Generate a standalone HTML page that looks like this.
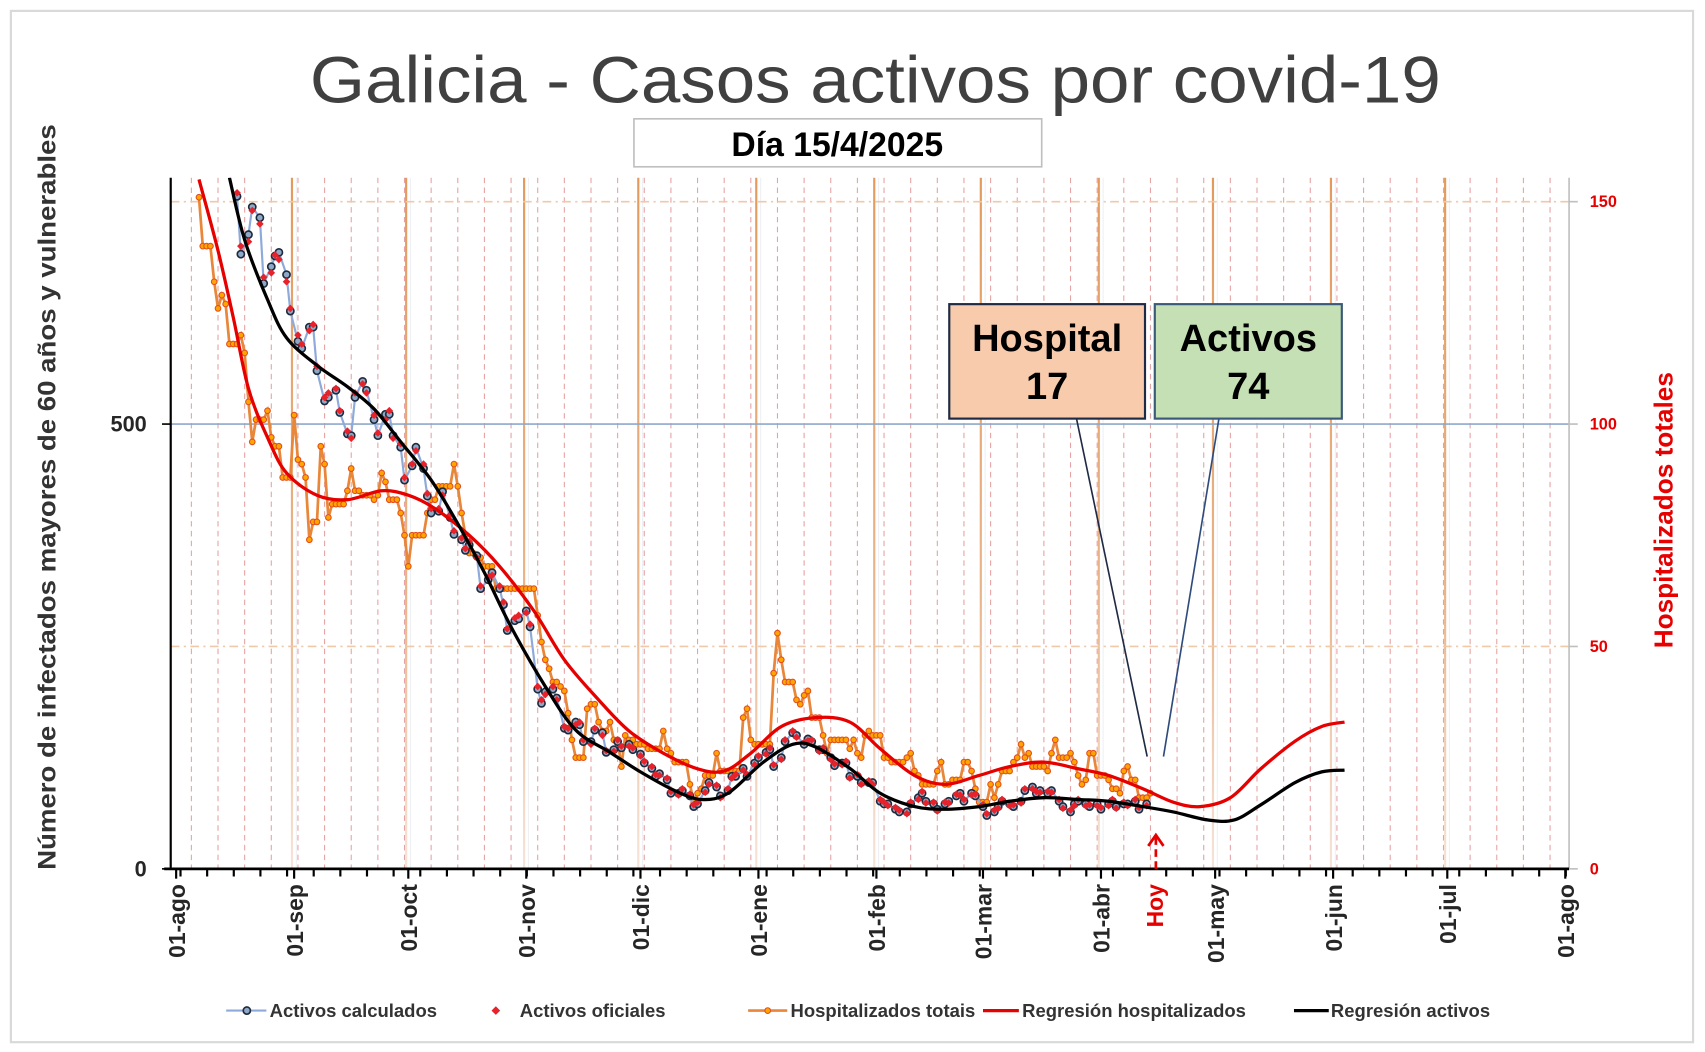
<!DOCTYPE html>
<html><head><meta charset="utf-8"><style>
html,body{margin:0;padding:0;background:#fff;width:1705px;height:1052px;overflow:hidden}
svg{display:block}
text{font-family:"Liberation Sans",sans-serif}
</style></head><body>
<svg id="chart" width="1705" height="1052" viewBox="0 0 1568 965" preserveAspectRatio="none" xmlns="http://www.w3.org/2000/svg">
<rect x="10" y="10" width="1547" height="946" fill="#fff" stroke="#d9d9d9" stroke-width="2"/>
<text x="805" y="94" text-anchor="middle" font-size="60" fill="#404040" textLength="1040" lengthAdjust="spacingAndGlyphs">Galicia - Casos activos por covid-19</text>
<rect x="583" y="109" width="375" height="44" fill="#fff" stroke="#bfbfbf" stroke-width="1.5"/>
<text x="770" y="143" text-anchor="middle" font-size="31" font-weight="bold" fill="#000">Día 15/4/2025</text>
<g id="grid"></g>
<g id="marks"></g>
<g id="axes"></g>
<g id="annot"></g>
</svg>
<script>
// ---------- DATA ----------
var monthLabels = ["01-ago","01-sep","01-oct","01-nov","01-dic","01-ene","01-feb","01-mar","01-abr","01-may","01-jun","01-jul","01-ago"];
var monthDays = [0,31,61,92,122,153,184,212,243,273,304,334,365];
var leftTicks = [0,500];
var rightTicks = [0,50,100,150];
var todayDay = 257;
var activeDays = [16,17,19,20,22,23,25,26,27,29,30,32,33,35,36,37,39,40,42,43,45,46,47,49,50,52,53,55,56,57,59,60,62,63,65,66,67,69,70,72,73,75,76,77,79,80,82,83,85,86,87,89,90,92,93,95,96,97,99,100,102,103,105,106,107,109,110,112,113,115,116,117,119,120,122,123,125,126,127,129,130,132,133,135,136,137,139,140,142,143,145,146,147,149,150,152,153,155,156,157,159,160,162,163,165,166,167,169,170,172,173,175,176,177,179,180,182,183,185,186,187,189,190,192,193,195,196,197,199,200,202,203,205,206,207,209,210,212,213,215,216,217,219,220,222,223,225,226,227,229,230,232,233,235,236,237,239,240,242,243,245,246,247,249,250,252,253,255];
var activeCalc = [756,691,713,744,732,658,677,689,693,668,627,593,585,609,609,560,526,530,538,513,489,487,530,548,538,505,487,511,511,487,474,437,453,474,450,419,400,402,424,395,376,370,358,364,352,315,325,333,315,297,268,279,281,290,272,202,186,199,202,192,
158,156,165,162,143,143,156,153,131,134,143,136,140,134,129,119,113,104,107,100,85,85,88,82,70,73,88,97,92,82,88,104,104,113,104,119,125,131,134,115,125,143,153,150,140,146,143,134,134,125,116,119,119,104,104,97,97,97,76,73,73,67,64,64,73,80,85,76,73,67,73,76,82,85,76,85,82,70,60,64,70,76,73,70,76,88,92,85,88,85,88,76,70,64,73,76,73,70,73,67,73,76,70,73,73,76,67,73];
var activeOfic = [760,700,705,740,725,665,670,690,685,660,630,600,590,605,612,565,530,535,540,515,492,484,535,545,535,510,490,505,515,484,478,440,455,470,455,422,405,405,420,398,380,372,360,368,350,318,328,330,318,300,270,282,285,288,275,205,190,196,205,190,
160,158,162,165,145,140,158,150,133,132,145,138,138,136,127,121,115,106,105,102,87,83,90,84,72,75,86,95,94,80,90,102,106,111,106,117,127,129,136,117,123,145,155,148,142,144,145,132,136,123,118,117,121,102,106,95,99,95,78,75,71,69,66,62,75,78,87,74,75,65,75,74,84,83,78,83,84,72,62,66,68,78,71,72,74,90,90,87,86,87,86,78,68,66,71,78,71,72,71,69,71,78,68,75,71,78,69,71];
var hospStart = 6;
var hospVals = [151,140,140,140,132,126,129,127,118,118,118,120,116,105,96,101,101,101,103,97,95,95,88,88,88,102,92,91,88,74,78,78,95,91,79,82,82,82,82,85,90,85,85,84,84,84,83,84,89,87,83,83,83,80,75,68,75,75,75,75,80,83,83,86,86,86,86,91,86,80,75,71,71,70,70,68,68,68,63,63,63,63,63,63,63,63,63,63,63,57,
51,47,45,42,42,41,40,35,29,25,25,25,36,37,37,33,31,31,33,29,29,23,30,29,29,28,28,28,27,27,27,27,31,27,26,24,24,24,24,19,15,17,18,21,21,21,26,22,22,22,22,22,22,34,36,29,28,28,28,28,28,44,53,47,42,42,42,38,37,39,40,34,34,34,30,26,29,29,29,29,29,27,
29,26,25,30,31,30,30,30,25,25,24,24,24,24,25,26,22,21,19,19,19,19,22,24,19,19,20,20,20,24,24,22,18,15,15,15,19,16,19,22,22,22,24,25,28,25,26,23,23,23,23,22,26,29,25,25,25,26,24,21,19,20,26,26,21,21,21,20,18,18,17,22,23,20,20,16,16,16,17];
var regHospDays = [6,11,15,19,24,29,37,45,54,61,68,77,85,94,102,111,119,128,137,144,151,159,168,177,185,194,202,211,219,228,237,245,254,262,269,277,285,294,301,307];
var regHospVals = [155,139,124,108,97,89,84,83,85,84,81,75,68,58,47,38,31,26,22.5,22,26,32,34,33,27,21,19,21,23,24,22.5,21,18,15,14,16,22.5,28.7,32,33];
var regActDays = [14,18,24,29,37,45,52,59,67,74,81,88,97,105,114,122,131,138,145,154,162,168,177,185,194,202,211,219,228,237,245,254,262,271,278,285,294,301,307];
var regActVals = [777,707,640,597,566,542,517,480,437,388,333,272,205,156,131,109,88,78,85,119,140,137,113,85,70,67,70,76,80,78,76,70,64,55,55,72,97,109,111];

// ---------- SCALES ----------
var X0=162, PXD=3.5, Y0=797, PXL=0.816, PXR=4.08, TOP=163, LEFT=157, RIGHT=1443;
function xs(d){return X0+d*PXD;}
function yl(v){return Y0-v*PXL;}
function yr(v){return Y0-v*PXR;}
var NS="http://www.w3.org/2000/svg";
function mk(tag,attrs,parent){var e=document.createElementNS(NS,tag);for(var k in attrs)e.setAttribute(k,attrs[k]);parent.appendChild(e);return e;}
var grid=document.getElementById('grid'),marks=document.getElementById('marks'),axes=document.getElementById('axes'),annot=document.getElementById('annot');
var defs=mk('defs',{},document.getElementById('chart'));
defs.innerHTML='<clipPath id="plotclip"><rect x="157" y="163" width="1286" height="640"/></clipPath><linearGradient id="fade" gradientUnits="userSpaceOnUse" x1="0" y1="163" x2="0" y2="797"><stop offset="0" stop-color="#e39a5c"/><stop offset="0.6" stop-color="#eab48a"/><stop offset="1" stop-color="#f6e4d8"/></linearGradient>';
marks.setAttribute('clip-path','url(#plotclip)');

// grid: weekly dashed
for(var d=4; d<=365; d+=7){
  var gl=mk('line',{x1:xs(d),x2:xs(d),y1:TOP,y2:Y0,stroke:'#e6a3a3','stroke-width':1,'stroke-dasharray':'5,4'},grid);
  
  
}
for(var i=1;i<monthDays.length-1;i++){
  var ml=mk('line',{x1:xs(monthDays[i])-2,x2:xs(monthDays[i])-2,y1:TOP,y2:Y0,stroke:'url(#fade)','stroke-width':2},grid);
  
  
  var fl=mk('line',{x1:xs(monthDays[i])+2,x2:xs(monthDays[i])+2,y1:TOP,y2:Y0,stroke:'#eef0f4','stroke-width':1},grid);
  
  
}
var h500=mk('line',{x1:LEFT,x2:RIGHT,y1:yl(500),y2:yl(500),stroke:'#8ea9c8','stroke-width':1.5},grid);


[50,150].forEach(function(v){
  var hl=mk('line',{x1:LEFT,x2:RIGHT,y1:yr(v),y2:yr(v),stroke:'#efc9a8','stroke-width':1.5,'stroke-dasharray':'8,4,2,4'},grid);
  
  
});

// smooth path
function smooth(pts){
  var s='M'+pts[0][0]+','+pts[0][1];
  for(var i=0;i<pts.length-1;i++){
    var p0=pts[i-1]||pts[i],p1=pts[i],p2=pts[i+1],p3=pts[i+2]||p2;
    s+=' C'+(p1[0]+(p2[0]-p0[0])/6)+','+(p1[1]+(p2[1]-p0[1])/6)+' '+(p2[0]-(p3[0]-p1[0])/6)+','+(p2[1]-(p3[1]-p1[1])/6)+' '+p2[0]+','+p2[1];
  }
  return s;
}
// hospital series
var hp=hospVals.map(function(v,i){return [xs(hospStart+i),yr(v)];});
var hl=mk('polyline',{points:hp.map(function(p){return p.join(',');}).join(' '),fill:'none',stroke:'#e8863a','stroke-width':2.5},marks);


hp.forEach(function(p){
  var c=mk('circle',{cx:p[0],cy:p[1],r:2.6,fill:'#ffa500',stroke:'#e2501c','stroke-width':1},marks);
  
  
});
// actives calculated
var ap=activeCalc.map(function(v,i){return [xs(activeDays[i]),yl(v)];});
var al=mk('polyline',{points:ap.map(function(p){return p.join(',');}).join(' '),fill:'none',stroke:'#8eaadb','stroke-width':2},marks);


ap.forEach(function(p){
  var c=mk('circle',{cx:p[0],cy:p[1],r:3.3,fill:'#8ea9c8',stroke:'#1f2a3c','stroke-width':1.5},marks);
  
  
});
activeOfic.forEach(function(v,i){
  var x=xs(activeDays[i]),y=yl(v);
  var dm=mk('path',{d:'M'+x+','+(y-3.5)+' L'+(x+3.5)+','+y+' L'+x+','+(y+3.5)+' L'+(x-3.5)+','+y+' Z',fill:'#e8222a'},marks);
  
  
});
var rh=mk('path',{d:smooth(regHospDays.map(function(d,i){return [xs(d),yr(regHospVals[i])];})),fill:'none',stroke:'#e60000','stroke-width':3},marks);


var ra=mk('path',{d:smooth(regActDays.map(function(d,i){return [xs(d),yl(regActVals[i])];})),fill:'none',stroke:'#000','stroke-width':3},marks);



// axes
var la=mk('line',{x1:LEFT,x2:LEFT,y1:TOP,y2:Y0,stroke:'#000','stroke-width':2},axes);


var rA=mk('line',{x1:RIGHT,x2:RIGHT,y1:TOP,y2:Y0,stroke:'#bfbfbf','stroke-width':1.5},axes);


var xa=mk('line',{x1:LEFT-6,x2:RIGHT,y1:Y0,y2:Y0,stroke:'#000','stroke-width':2.5},axes);


for(var d2=0; d2<=365; d2+=7){
  var tk=mk('line',{x1:xs(d2)+4,x2:xs(d2)+4,y1:Y0,y2:Y0+7,stroke:'#000','stroke-width':2},axes);
  
  
}
monthDays.forEach(function(d,i){
  var x=xs(d);
  var t=mk('line',{x1:x,x2:x,y1:Y0,y2:Y0+9,stroke:'#000','stroke-width':2},axes);
  
  
  var tx=mk('text',{x:0,y:0,transform:'translate('+(x+8)+','+(Y0+14)+') rotate(-90)','text-anchor':'end','font-size':21,'font-weight':'bold',fill:'#262626'},axes);
  tx.textContent=monthLabels[i];
  
  
});
var hoy=mk('text',{x:0,y:0,transform:'translate('+(xs(todayDay)+8)+','+(Y0+14)+') rotate(-90)','text-anchor':'end','font-size':21,'font-weight':'bold',fill:'#e60000'},axes);
hoy.textContent='Hoy';


leftTicks.forEach(function(v){
  var t=mk('line',{x1:LEFT-8,x2:LEFT,y1:yl(v),y2:yl(v),stroke:'#000','stroke-width':1.5},axes);
  
  
  var tx=mk('text',{x:LEFT-22,y:yl(v)+7,'text-anchor':'end','font-size':20,'font-weight':'bold',fill:'#262626'},axes);
  tx.textContent=v;
  
  
});
rightTicks.forEach(function(v){
  var t=mk('line',{x1:RIGHT,x2:RIGHT+8,y1:yr(v),y2:yr(v),stroke:'#bfbfbf','stroke-width':1.5},axes);
  
  
  var tx=mk('text',{x:RIGHT+19,y:yr(v)+5,'text-anchor':'start','font-size':15,'font-weight':'bold',fill:'#e60000'},axes);
  tx.textContent=v;
  
  
});
</script>
<script>
// annotations & legend
(function(){
var annot=document.getElementById('annot');
annot.innerHTML=
'<text transform="translate(51,456) rotate(-90)" text-anchor="middle" font-size="23" font-weight="bold" fill="#333" textLength="684" lengthAdjust="spacingAndGlyphs">Número de infectados mayores de 60 años y vulnerables</text>'+
'<text transform="translate(1538,468) rotate(-90)" text-anchor="middle" font-size="24" font-weight="bold" fill="#e60000">Hospitalizados totales</text>'+
'<line x1="990" y1="384" x2="1055" y2="694" stroke="#1f2a44" stroke-width="1.5"/>'+
'<line x1="1121" y1="384" x2="1070" y2="694" stroke="#2f4b7c" stroke-width="1.5"/>'+
'<rect x="873" y="279" width="180" height="105" fill="#f8cbad" stroke="#1f2a44" stroke-width="2"/>'+
'<text x="963" y="322" text-anchor="middle" font-size="35" font-weight="bold" fill="#000">Hospital</text>'+
'<text x="963" y="366" text-anchor="middle" font-size="35" font-weight="bold" fill="#000">17</text>'+
'<rect x="1062" y="279" width="172" height="105" fill="#c5e0b4" stroke="#3b5a7a" stroke-width="2"/>'+
'<text x="1148" y="322" text-anchor="middle" font-size="35" font-weight="bold" fill="#000">Activos</text>'+
'<text x="1148" y="366" text-anchor="middle" font-size="35" font-weight="bold" fill="#000">74</text>'+
'<line x1="1063" y1="797" x2="1063" y2="766" stroke="#e60000" stroke-width="2.5" stroke-dasharray="7,4"/>'+
'<path d="M1056,776 L1063,766 L1070,776" fill="none" stroke="#e60000" stroke-width="2.5"/>'+
'<g font-size="17" font-weight="bold" fill="#333">'+
'<line x1="208" y1="927" x2="245" y2="927" stroke="#8eaadb" stroke-width="2"/><circle cx="227" cy="927" r="3.3" fill="#8ea9c8" stroke="#1f2a3c" stroke-width="1.5"/>'+
'<text x="248" y="933">Activos calculados</text>'+
'<path d="M456,923 L460,927 L456,931 L452,927 Z" fill="#e8222a"/>'+
'<text x="478" y="933">Activos oficiales</text>'+
'<line x1="688" y1="927" x2="724" y2="927" stroke="#e8863a" stroke-width="2.5"/><circle cx="706" cy="927" r="2.6" fill="#ffa500" stroke="#e2501c" stroke-width="1"/>'+
'<text x="727" y="933">Hospitalizados totais</text>'+
'<line x1="904" y1="927" x2="937" y2="927" stroke="#e60000" stroke-width="3"/>'+
'<text x="940" y="933">Regresión hospitalizados</text>'+
'<line x1="1190" y1="927" x2="1222" y2="927" stroke="#000" stroke-width="3"/>'+
'<text x="1224" y="933">Regresión activos</text>'+
'</g>';
})();
</script>
</body></html>
